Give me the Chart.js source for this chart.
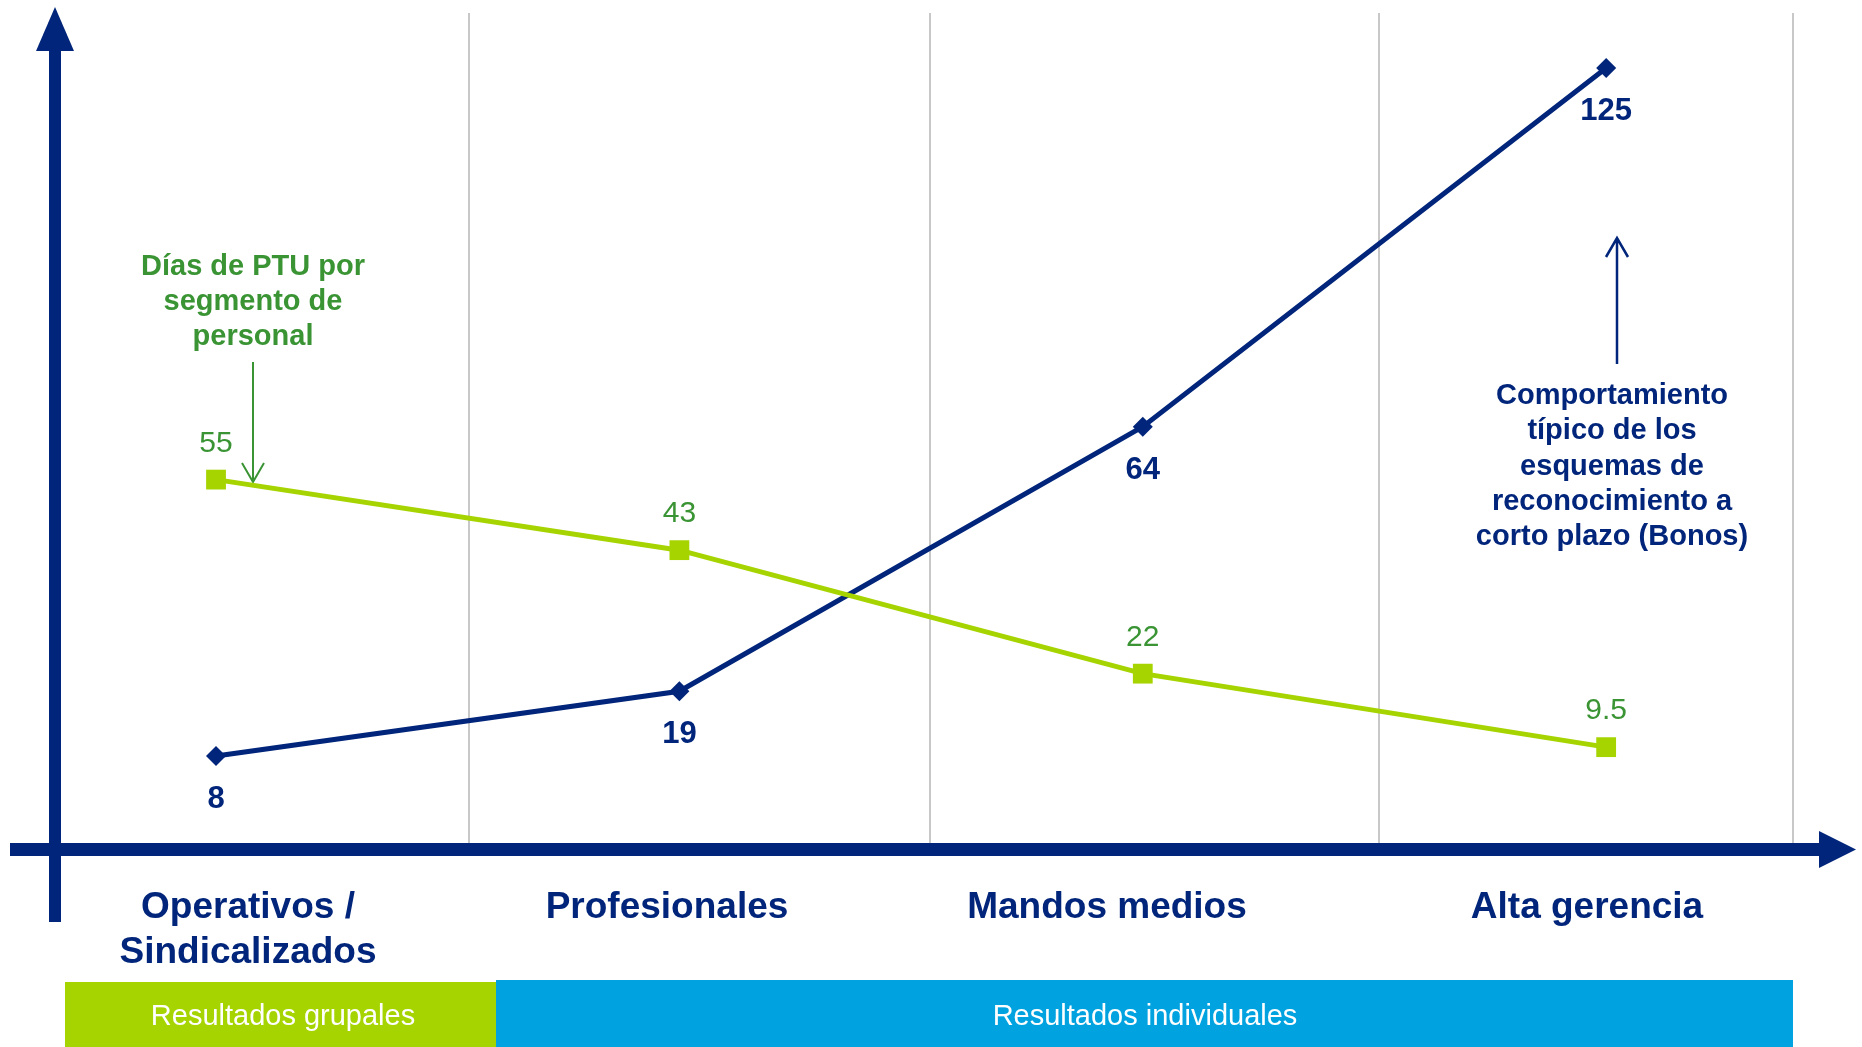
<!DOCTYPE html>
<html>
<head>
<meta charset="utf-8">
<script src="https://cdn.jsdelivr.net/npm/chart.js@4.4.1/dist/chart.umd.min.js"></script>
<style>
  html, body { margin: 0; padding: 0; background: #ffffff; }
  #wrap { width: 1862px; height: 1047px; position: relative; }
</style>
</head>
<body>
<div id="wrap"><canvas id="c" width="1862" height="1047"></canvas></div>
<script>
// ---- Data ----
const categories = [["Operativos /", "Sindicalizados"], ["Profesionales"], ["Mandos medios"], ["Alta gerencia"]];
const bonosValues = [8, 19, 64, 125];
const ptuValues = [55, 43, 22, 9.5];
const ptuLabels = ["55", "43", "22", "9.5"];
const bonosLabels = ["8", "19", "64", "125"];
const bandLabels = ["Resultados grupales", "Resultados individuales"];
const ptuNote = ["Días de PTU por", "segmento de", "personal"];
const bonosNote = ["Comportamiento", "típico de los", "esquemas de", "reconocimiento a", "corto plazo (Bonos)"];

const NAVY = "#00257A";
const LIME = "#A6D400";
const GREEN_TXT = "#3A9434";
const SKY = "#00A3E0";
const GRID = "#C8C8C8";
const FONT = "'Liberation Sans', Arial, sans-serif";

const decor = {
  id: "decor",
  beforeDatasetsDraw(chart) {
    const ctx = chart.ctx;
    ctx.save();
    // vertical separators
    ctx.strokeStyle = GRID;
    ctx.lineWidth = 2;
    [469, 930, 1379, 1793].forEach(x => {
      ctx.beginPath();
      ctx.moveTo(x, 13);
      ctx.lineTo(x, 850);
      ctx.stroke();
    });
    // y axis with arrow
    ctx.fillStyle = NAVY;
    ctx.fillRect(49, 50, 12, 872);
    ctx.beginPath();
    ctx.moveTo(36, 51); ctx.lineTo(55, 7); ctx.lineTo(74, 51); ctx.closePath();
    ctx.fill();
    // x axis with arrow
    ctx.fillRect(10, 843, 1810, 13);
    ctx.beginPath();
    ctx.moveTo(1819, 831); ctx.lineTo(1856, 849.5); ctx.lineTo(1819, 868); ctx.closePath();
    ctx.fill();
    // bottom bands
    ctx.fillStyle = LIME;
    ctx.fillRect(65, 982, 431, 65);
    ctx.fillStyle = SKY;
    ctx.fillRect(496, 980, 1297, 67);
    ctx.fillStyle = "#ffffff";
    ctx.font = "29px " + FONT;
    ctx.textAlign = "center";
    ctx.textBaseline = "alphabetic";
    ctx.fillText(bandLabels[0], 283, 1025);
    ctx.fillText(bandLabels[1], 1145, 1025);
    // category labels
    ctx.fillStyle = NAVY;
    ctx.font = "bold 37px " + FONT;
    const catX = [248, 667, 1107, 1587];
    categories.forEach((lines, i) => {
      lines.forEach((t, j) => ctx.fillText(t, catX[i], 918 + j * 45));
    });
    // annotations
    ctx.fillStyle = GREEN_TXT;
    ctx.font = "bold 29px " + FONT;
    ptuNote.forEach((t, j) => ctx.fillText(t, 253, 275 + j * 35));
    ctx.strokeStyle = GREEN_TXT;
    ctx.lineWidth = 2;
    ctx.beginPath();
    ctx.moveTo(253, 362); ctx.lineTo(253, 482);
    ctx.moveTo(242, 463); ctx.lineTo(253, 482); ctx.lineTo(264, 463);
    ctx.stroke();

    ctx.fillStyle = NAVY;
    ctx.font = "bold 29px " + FONT;
    bonosNote.forEach((t, j) => ctx.fillText(t, 1612, 404 + j * 35.3));
    ctx.strokeStyle = NAVY;
    ctx.lineWidth = 2.5;
    ctx.beginPath();
    ctx.moveTo(1617, 364); ctx.lineTo(1617, 238);
    ctx.moveTo(1606, 257); ctx.lineTo(1617, 238); ctx.lineTo(1628, 257);
    ctx.stroke();
    ctx.restore();
  },
  afterDatasetsDraw(chart) {
    const ctx = chart.ctx;
    ctx.save();
    ctx.textAlign = "center";
    ctx.textBaseline = "alphabetic";
    const mg = chart.getDatasetMeta(0);
    ctx.fillStyle = GREEN_TXT;
    ctx.font = "30px " + FONT;
    mg.data.forEach((p, i) => ctx.fillText(ptuLabels[i], p.x, p.y - 28));
    const mb = chart.getDatasetMeta(1);
    ctx.fillStyle = NAVY;
    ctx.font = "bold 31px " + FONT;
    mb.data.forEach((p, i) => ctx.fillText(bonosLabels[i], p.x, p.y + 52));
    ctx.restore();
  }
};

new Chart(document.getElementById("c"), {
  type: "line",
  data: {
    datasets: [
      {
        label: "PTU",
        data: ptuValues.map((v, i) => ({ x: i, y: v })),
        borderColor: LIME,
        backgroundColor: LIME,
        borderWidth: 5,
        pointStyle: "rect",
        pointRadius: 14,
        pointBorderWidth: 0,
        pointBackgroundColor: LIME,
        tension: 0
      },
      {
        label: "Bonos",
        data: bonosValues.map((v, i) => ({ x: i, y: v })),
        borderColor: NAVY,
        backgroundColor: NAVY,
        borderWidth: 5,
        pointStyle: "rectRot",
        pointRadius: 10,
        pointBorderWidth: 0,
        pointBackgroundColor: NAVY,
        tension: 0
      }
    ]
  },
  options: {
    responsive: false,
    animation: false,
    devicePixelRatio: 1,
    layout: { autoPadding: false, padding: { left: 10, right: 7, top: 13, bottom: 197 } },
    plugins: { legend: { display: false }, tooltip: { enabled: false } },
    scales: {
      x: { type: "linear", display: false, min: -0.4446, max: 3.537 },
      y: { type: "linear", display: false, min: -7.99, max: 134.35 }
    }
  },
  plugins: [decor]
});
</script>
</body>
</html>
